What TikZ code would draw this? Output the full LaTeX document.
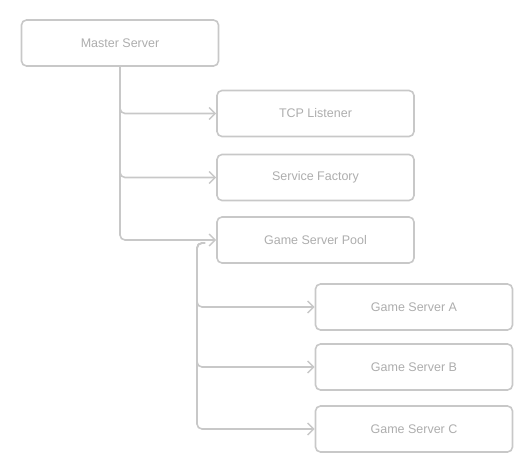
\documentclass[tikz,border=0pt]{standalone}
\usepackage{fontspec}
\setmainfont{Liberation Sans}
\usetikzlibrary{arrows.meta}
\definecolor{strokegray}{HTML}{C8C8C8}
\definecolor{textgray}{HTML}{ADADAD}
\tikzset{
  box/.style={draw=strokegray, line width=1.6pt, rounded corners=5pt, minimum width=197pt, minimum height=46pt, inner sep=0pt, text=textgray, font=\fontsize{12.5}{14}\selectfont},
  conn/.style={draw=strokegray, line width=1.6pt, rounded corners=5pt, -{Straight Barb[length=6pt,width=12pt,line width=1.4pt]}}
}
\begin{document}
\begin{tikzpicture}[x=1pt,y=-1pt]
\useasboundingbox (0,0) rectangle (528,473);
\node[box] (ms) at (120,43) {Master Server};
\node[box] (tcp) at (315.5,113.5) {TCP Listener};
\node[box] (sf) at (315.5,177.5) {Service Factory};
\node[box] (pool) at (315.5,240) {Game Server Pool};
\node[box] (ga) at (414,307) {Game Server A};
\node[box] (gb) at (414,367) {Game Server B};
\node[box] (gc) at (414,429) {Game Server C};
\coordinate (poolout) at (205,243);
\draw[conn] (ms.south) |- (tcp.west);
\draw[conn] (ms.south) |- (sf.west);
\draw[conn] (ms.south) |- (pool.west);
\draw[conn] (poolout) -| (197,260) |- (ga.west);
\draw[conn] (poolout) -| (197,260) |- (gb.west);
\draw[conn] (poolout) -| (197,260) |- (gc.west);
\end{tikzpicture}
\end{document}
